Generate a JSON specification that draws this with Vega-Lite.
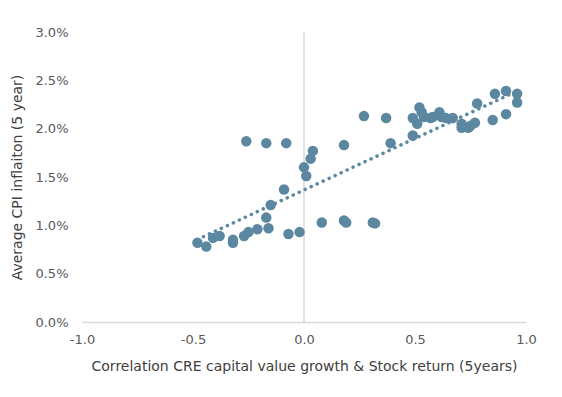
{
  "$schema": "https://vega.github.io/schema/vega-lite/v6.json",
  "width": 444,
  "height": 290,
  "autosize": {"type": "none"},
  "padding": {"left": 82, "top": 32, "right": 36, "bottom": 75},
  "config": {
    "view": {"stroke": null},
    "font": "DejaVu Sans",
    "axis": {"labelFont": "DejaVu Sans", "titleFont": "DejaVu Sans", "labelColor": "#595959", "titleColor": "#404040", "labelFontSize": 13, "titleFontSize": 14, "titleFontWeight": "normal", "grid": false, "labelOverlap": false, "labelFlush": false}
  },
  "data": {
    "values": [
      {"x": -0.26, "y": 0.0187},
      {"x": -0.17, "y": 0.0185},
      {"x": -0.08, "y": 0.0185},
      {"x": 0.04, "y": 0.0177},
      {"x": 0.03, "y": 0.0169},
      {"x": 0.0, "y": 0.0160},
      {"x": 0.01, "y": 0.0151},
      {"x": -0.09, "y": 0.0137},
      {"x": -0.15, "y": 0.0121},
      {"x": -0.17, "y": 0.0108},
      {"x": -0.16, "y": 0.0097},
      {"x": -0.21, "y": 0.0096},
      {"x": -0.25, "y": 0.0093},
      {"x": -0.27, "y": 0.0089},
      {"x": -0.32, "y": 0.0085},
      {"x": -0.32, "y": 0.0082},
      {"x": -0.38, "y": 0.0089},
      {"x": -0.41, "y": 0.0087},
      {"x": -0.48, "y": 0.0082},
      {"x": -0.44, "y": 0.0078},
      {"x": -0.07, "y": 0.0091},
      {"x": -0.02, "y": 0.0093},
      {"x": 0.08, "y": 0.0103},
      {"x": 0.18, "y": 0.0105},
      {"x": 0.19, "y": 0.0103},
      {"x": 0.31, "y": 0.0103},
      {"x": 0.32, "y": 0.0102},
      {"x": 0.18, "y": 0.0183},
      {"x": 0.27, "y": 0.0213},
      {"x": 0.37, "y": 0.0211},
      {"x": 0.39, "y": 0.0185},
      {"x": 0.49, "y": 0.0193},
      {"x": 0.49, "y": 0.0211},
      {"x": 0.51, "y": 0.0205},
      {"x": 0.52, "y": 0.0222},
      {"x": 0.53, "y": 0.0217},
      {"x": 0.54, "y": 0.0212},
      {"x": 0.57, "y": 0.0211},
      {"x": 0.58, "y": 0.0212},
      {"x": 0.61, "y": 0.0217},
      {"x": 0.62, "y": 0.0212},
      {"x": 0.64, "y": 0.0211},
      {"x": 0.67, "y": 0.0211},
      {"x": 0.71, "y": 0.0205},
      {"x": 0.71, "y": 0.0201},
      {"x": 0.74, "y": 0.0201},
      {"x": 0.75, "y": 0.0203},
      {"x": 0.77, "y": 0.0206},
      {"x": 0.78, "y": 0.0226},
      {"x": 0.85, "y": 0.0209},
      {"x": 0.86, "y": 0.0236},
      {"x": 0.91, "y": 0.0215},
      {"x": 0.91, "y": 0.0239},
      {"x": 0.96, "y": 0.0236},
      {"x": 0.96, "y": 0.0227}
    ]
  },
  "layer": [
    {
      "data": {"values": [{"x": 0}]},
      "mark": {"type": "rule", "color": "#d9d9d9", "strokeWidth": 1.5},
      "encoding": {
        "x": {"field": "x", "type": "quantitative", "scale": {"domain": [-1, 1]}}
      }
    },
    {
      "mark": {"type": "circle", "size": 110, "color": "#5b87a1", "opacity": 1},
      "encoding": {
        "x": {"field": "x", "type": "quantitative", "scale": {"domain": [-1, 1], "nice": false},
          "axis": {"title": "Correlation CRE capital value growth & Stock return (5years)", "values": [-1, -0.5, 0, 0.5, 1], "labelExpr": "(datum.value < 0 ? '-' : '') + format(abs(datum.value), '.1f')", "domainColor": "#d9d9d9", "domainWidth": 1.5, "ticks": false, "labelPadding": 11, "titlePadding": 13}},
        "y": {"field": "y", "type": "quantitative", "scale": {"domain": [0, 0.03], "nice": false},
          "axis": {"title": "Average CPI inflaiton (5 year)", "format": ".1%", "values": [0, 0.005, 0.01, 0.015, 0.02, 0.025, 0.03], "domain": false, "ticks": false, "labelPadding": 14, "titlePadding": 10}}
      }
    },
    {
      "transform": [{"regression": "y", "on": "x"}],
      "mark": {"type": "line", "color": "#5b87a1", "strokeDash": [0.1, 6.5], "strokeWidth": 3.5, "strokeCap": "round"},
      "encoding": {
        "x": {"field": "x", "type": "quantitative"},
        "y": {"field": "y", "type": "quantitative"}
      }
    }
  ]
}
